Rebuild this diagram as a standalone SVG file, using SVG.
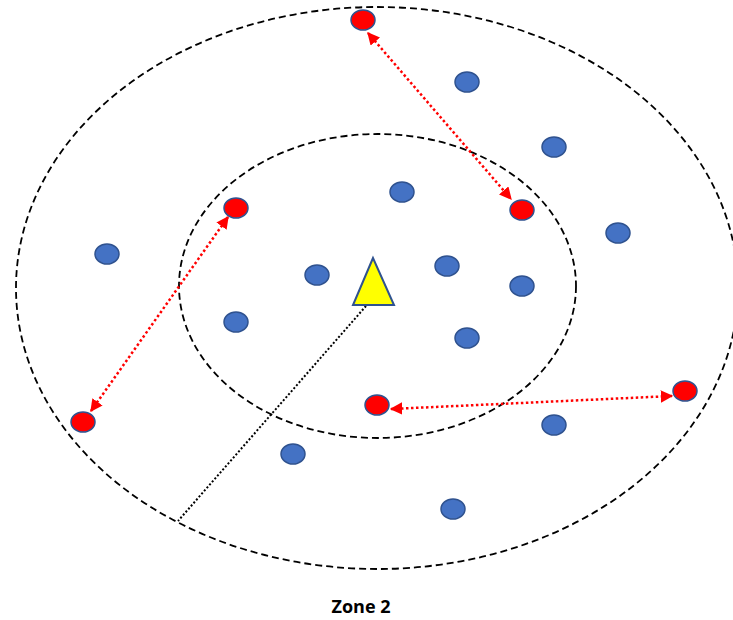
<svg xmlns="http://www.w3.org/2000/svg" width="733" height="620" viewBox="0 0 733 620">
<style>
.zone{fill:none;stroke:#000;stroke-width:1.8;stroke-dasharray:7 4}
.b{fill:#4472C4;stroke:#2F528F;stroke-width:1.5}
.r{fill:#FF0000;stroke:#2F528F;stroke-width:1.5}
.arr{fill:none;stroke:#FF0000;stroke-width:2.5;stroke-dasharray:2.5 2.5;marker-start:url(#ah);marker-end:url(#ah)}
.lbl{font-family:"Open Sans","Liberation Sans",sans-serif;font-weight:bold;font-size:18px;fill:#000}
</style>
<defs>
<marker id="ah" viewBox="0 0 10 10" refX="9" refY="5" markerWidth="5" markerHeight="5" orient="auto-start-reverse">
<path d="M0,0 L10,5 L0,10 Z" fill="#FF0000"/>
</marker>
</defs>
<rect width="733" height="620" fill="#fff"/>
<g id="zones">
<ellipse class="zone" cx="377" cy="288" rx="361" ry="281"/>
<ellipse class="zone" cx="377.5" cy="286" rx="198.5" ry="152"/>
</g>
<g id="connectors">
<line x1="366" y1="306" x2="178" y2="521" stroke="#000" stroke-width="2" stroke-dasharray="2 2"/>
<line class="arr" x1="368" y1="33" x2="511" y2="199"/>
<line class="arr" x1="228" y1="217" x2="91" y2="411"/>
<line class="arr" x1="391" y1="409" x2="672" y2="396"/>
</g>
<g id="bs">
<polygon points="373,258 353,305 394,305" fill="#FFFF00" stroke="#2F528F" stroke-width="2"/>
</g>
<g id="blue-nodes">
<ellipse class="b" cx="467" cy="82" rx="12" ry="10"/>
<ellipse class="b" cx="554" cy="147" rx="12" ry="10"/>
<ellipse class="b" cx="402" cy="192" rx="12" ry="10"/>
<ellipse class="b" cx="618" cy="233" rx="12" ry="10"/>
<ellipse class="b" cx="107" cy="254" rx="12" ry="10"/>
<ellipse class="b" cx="317" cy="275" rx="12" ry="10"/>
<ellipse class="b" cx="447" cy="266" rx="12" ry="10"/>
<ellipse class="b" cx="522" cy="286" rx="12" ry="10"/>
<ellipse class="b" cx="236" cy="322" rx="12" ry="10"/>
<ellipse class="b" cx="467" cy="338" rx="12" ry="10"/>
<ellipse class="b" cx="554" cy="425" rx="12" ry="10"/>
<ellipse class="b" cx="293" cy="454" rx="12" ry="10"/>
<ellipse class="b" cx="453" cy="509" rx="12" ry="10"/>
</g>
<g id="red-nodes">
<ellipse class="r" cx="363" cy="20" rx="12" ry="10"/>
<ellipse class="r" cx="522" cy="210" rx="12" ry="10"/>
<ellipse class="r" cx="236" cy="208" rx="12" ry="10"/>
<ellipse class="r" cx="83" cy="422" rx="12" ry="10"/>
<ellipse class="r" cx="377" cy="405" rx="12" ry="10"/>
<ellipse class="r" cx="685" cy="391" rx="12" ry="10"/>
</g>
<text class="lbl" x="361" y="613" text-anchor="middle">Zone 2</text>
</svg>
